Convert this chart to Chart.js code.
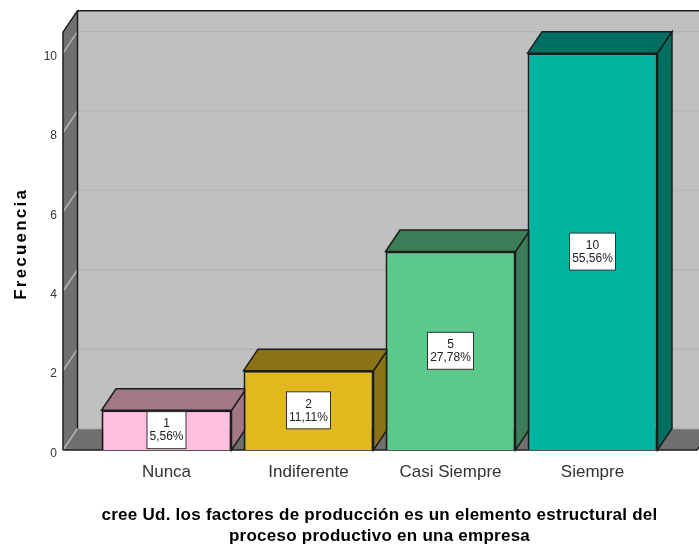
<!DOCTYPE html>
<html>
<head>
<meta charset="utf-8">
<style>html,body{margin:0;padding:0;background:#fff}canvas{display:block}</style>
<script src="https://cdn.jsdelivr.net/npm/chart.js@4"></script>
</head>
<body>
<canvas id="c" width="699" height="545"></canvas>
<script>
const categories = ["Nunca", "Indiferente", "Casi Siempre", "Siempre"];
const frecuencia = [1, 2, 5, 10];
const porcentajes = ["5,56%", "11,11%", "27,78%", "55,56%"];
const frontColors = ["#FFC0E0", "#E1B91E", "#5CC98C", "#00B5A0"];
const depthColors = ["#A07888", "#8A7314", "#3A7D56", "#006E60"];
const yTitle = "Frecuencia";
const xTitle = ["cree Ud. los factores de producción es un elemento estructural del", "proceso productivo en una empresa"];
const yTicks = [0, 2, 4, 6, 8, 10];

const DX = 14.5, DY = -21.5, EDGE = "#1c1c1c", WALL_TOP_VALUE = 10.53;

function poly(ctx, pts, fill, stroke, lw) {
  ctx.beginPath();
  pts.forEach((p, i) => i ? ctx.lineTo(p[0], p[1]) : ctx.moveTo(p[0], p[1]));
  ctx.closePath();
  if (fill) { ctx.fillStyle = fill; ctx.fill(); }
  if (stroke) { ctx.strokeStyle = stroke; ctx.lineWidth = lw || 1; ctx.stroke(); }
}

const box3d = {
  id: "box3d",
  beforeDatasetsDraw(chart) {
    const ctx = chart.ctx, a = chart.chartArea, y = chart.scales.y;
    const fl = a.left - 32.5, fr = a.right + 33.5, top = y.getPixelForValue(WALL_TOP_VALUE), bot = a.bottom;
    const bl = fl + DX, backBot = bot + DY, backTop = top + DY;
    ctx.save();
    poly(ctx, [[bl, backTop], [chart.width + 2, backTop], [chart.width + 2, backBot], [bl, backBot]], "#C0C0C0");
    poly(ctx, [[fl, bot], [bl, backBot], [bl, backTop], [fl, top]], "#707070");
    poly(ctx, [[fl, bot], [fr, bot], [fr + DX, backBot], [bl, backBot]], "#707070");
    ctx.strokeStyle = "#B5B5B5"; ctx.lineWidth = 1.5;
    y.ticks.forEach(t => {
      const py = y.getPixelForValue(t.value);
      ctx.beginPath();
      ctx.moveTo(fl, py); ctx.lineTo(bl, py + DY); ctx.lineTo(chart.width + 2, py + DY);
      ctx.stroke();
    });
    ctx.strokeStyle = EDGE; ctx.lineWidth = 1.5;
    ctx.beginPath();
    ctx.moveTo(fl, bot); ctx.lineTo(fl, top); ctx.lineTo(bl, backTop); ctx.lineTo(chart.width + 2, backTop);
    ctx.moveTo(bl, backTop); ctx.lineTo(bl, backBot);
    ctx.moveTo(fl, bot); ctx.lineTo(fr, bot); ctx.lineTo(fr + DX, backBot);
    ctx.stroke();
    chart.getDatasetMeta(0).data.forEach((b, i) => {
      const l = b.x - b.width / 2, r = b.x + b.width / 2;
      poly(ctx, [[r, b.y], [r, b.base], [r + DX, b.base + DY], [r + DX, b.y + DY]], depthColors[i], EDGE, 1.5);
      poly(ctx, [[l, b.y], [r, b.y], [r + DX, b.y + DY], [l + DX, b.y + DY]], depthColors[i], EDGE, 1.5);
    });
    ctx.restore();
  },
  afterDatasetsDraw(chart) {
    const ctx = chart.ctx;
    ctx.save();
    ctx.font = "12px 'Liberation Sans'";
    ctx.textAlign = "center"; ctx.textBaseline = "middle";
    chart.getDatasetMeta(0).data.forEach((b, i) => {
      const cy = (b.y + b.base) / 2;
      const w = Math.round(ctx.measureText(porcentajes[i]).width) + 5, h = 37;
      ctx.fillStyle = "#fff"; ctx.strokeStyle = "#333"; ctx.lineWidth = 1;
      ctx.fillRect(b.x - w / 2, cy - h / 2, w, h);
      ctx.strokeRect(b.x - w / 2, cy - h / 2, w, h);
      ctx.fillStyle = "#222";
      ctx.fillText(String(frecuencia[i]), b.x, cy - 6);
      ctx.fillText(porcentajes[i], b.x, cy + 7);
    });
    ctx.restore();
  }
};

function spacedTitle(scale, spacing) {
  const base = Object.getPrototypeOf(scale).drawTitle;
  scale.drawTitle = function () {
    this.ctx.letterSpacing = spacing;
    base.call(this);
    this.ctx.letterSpacing = "0px";
  };
}

function nudgeLabels(scale, dy) {
  const base = Object.getPrototypeOf(scale)._computeLabelItems;
  scale._computeLabelItems = function (area) {
    const items = base.call(this, area);
    items.forEach(it => { it.options.translation = [it.options.translation[0], it.options.translation[1] + dy]; });
    return items;
  };
}

new Chart(document.getElementById("c"), {
  type: "bar",
  data: {
    labels: categories,
    datasets: [{
      label: yTitle,
      data: frecuencia,
      backgroundColor: frontColors,
      borderColor: EDGE,
      borderWidth: 2,
      barPercentage: 130 / 142,
      categoryPercentage: 1
    }]
  },
  plugins: [box3d],
  options: {
    responsive: false,
    animation: false,
    layout: { autoPadding: false, padding: { left: 0, right: 35.5, top: 26.5, bottom: 0 } },
    plugins: { legend: { display: false }, tooltip: { enabled: false } },
    scales: {
      x: {
        grid: { display: false },
        border: { display: false },
        ticks: { color: "#333", font: { family: "'Liberation Sans'", size: 17 }, padding: 4, maxRotation: 0 },
        title: {
          display: true, text: xTitle, color: "#000",
          font: { family: "'Liberation Sans'", size: 17, weight: "bold", lineHeight: 1.235 },
          padding: { top: 0, bottom: -2 }
        },
        afterFit(s) { s.height = 95; spacedTitle(s, "0.25px"); }
      },
      y: {
        min: 0, max: 10.39,
        afterBuildTicks(s) { s.ticks = yTicks.map(v => ({ value: v })); },
        grid: { display: false },
        border: { display: false },
        ticks: { color: "#333", font: { family: "'Liberation Sans'", size: 12 }, padding: 30.5 },
        title: {
          display: true, text: yTitle, color: "#000",
          font: { family: "'Liberation Sans'", size: 17, weight: "bold" },
          padding: { top: 11, bottom: 0 }
        },
        afterFit(s) { s.width = 95.5; spacedTitle(s, "2.2px"); nudgeLabels(s, 3.5); }
      }
    }
  }
});
</script>
</body>
</html>
